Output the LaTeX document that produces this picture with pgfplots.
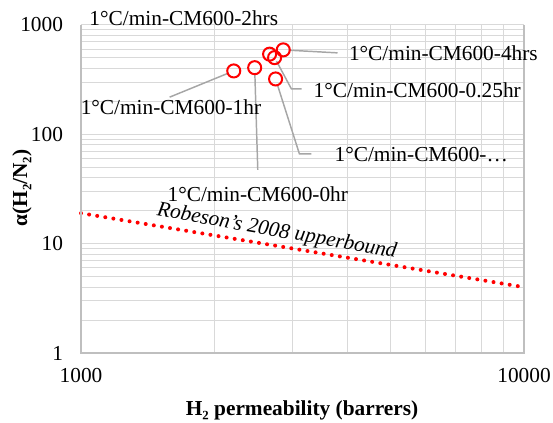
\documentclass[border=0pt]{standalone}
\usepackage{pgfplots}
\pgfplotsset{compat=1.18}
\usepackage{fontspec}
\setmainfont{Liberation Serif}

\definecolor{gridgray}{HTML}{D9D9D9}
\definecolor{axisgray}{HTML}{BFBFBF}
\definecolor{leadergray}{HTML}{A6A6A6}

\begin{document}
\begin{tikzpicture}[x=0.75pt,y=0.75pt,font=\fontsize{16}{19.2}\selectfont]
\useasboundingbox (0,0) rectangle (553,423);
\begin{axis}[
  at={(60.75pt,52.5pt)}, anchor=south west,
  scale only axis, width=332.25pt, height=246pt,
  xmode=log, ymode=log,
  xmin=1000, xmax=10000, ymin=1, ymax=1000,
  xtick={1000,10000}, xticklabels={1000,10000},
  ytick={1,10,100,1000}, yticklabels={1,10,100,1000},
  minor xtick={2000,3000,4000,5000,6000,7000,8000,9000},
  minor ytick={2,3,4,5,6,7,8,9,20,30,40,50,60,70,80,90,200,300,400,500,600,700,800,900},
  grid=both,
  major grid style={gridgray, line width=0.75pt},
  minor grid style={gridgray, line width=0.75pt},
  axis line style={draw=none},
  tick style={draw=none},
  /pgf/number format/assume math mode=true,
  xticklabel style={yshift=-8pt},
  yticklabel style={xshift=-10pt},
  clip=false,
]
% Robeson 2008 upper bound
\addplot[red, line width=3pt, line cap=round, dash pattern=on 0pt off 6.15pt]
  coordinates {(1000,19) (10000,4)};

% CM600 membranes, 1 C/min ramp
\addplot[only marks, mark=o, mark size=4.9pt, red, mark options={line width=1.5pt}]
  coordinates {(2212,380) (2466,407) (2665,541) (2735,503) (2861,592) (2749,321)};

% frame: left, bottom, right
\draw[axisgray, line width=1pt] (rel axis cs:0,1) -- (rel axis cs:0,0) -- (rel axis cs:1,0) -- (rel axis cs:1,1);

% leader lines
\draw[leadergray, line width=1.1pt, shorten >=4pt] (rel axis cs:0.200,0.780) -- (axis cs:2212,380);
\draw[leadergray, line width=1.1pt, shorten >=4pt] (rel axis cs:0.399,0.558) -- (axis cs:2466,407);
\draw[leadergray, line width=1.1pt, shorten >=4pt] (rel axis cs:0.579,0.915) -- (axis cs:2861,592);
\draw[leadergray, line width=1.1pt, shorten >=3pt] (rel axis cs:0.498,0.805) -- (rel axis cs:0.475,0.805) -- (axis cs:2735,503);
\draw[leadergray, line width=1.1pt, shorten >=4pt] (rel axis cs:0.520,0.607) -- (rel axis cs:0.493,0.607) -- (axis cs:2749,321);

% data labels
\node at (rel axis cs:0.232,1.021) {1°C/min-CM600-2hrs};
\node at (rel axis cs:0.818,0.915) {1°C/min-CM600-4hrs};
\node at (rel axis cs:0.759,0.802) {1°C/min-CM600-0.25hr};
\node at (rel axis cs:0.768,0.604) {1°C/min-CM600-…};
\node at (rel axis cs:0.203,0.750) {1°C/min-CM600-1hr};
\node[inner sep=0pt] at (rel axis cs:0.399,0.485) {1°C/min-CM600-0hr};
\node[inner sep=0pt, rotate=-10, font=\fontsize{16}{19.2}\selectfont\itshape] at (rel axis cs:0.442,0.370) {Robeson's 2008 upperbound};
\end{axis}
\node[font=\fontsize{16}{19.2}\selectfont\bfseries] at (302,13) {H₂ permeability (barrers)};
\node[rotate=90, font=\fontsize{16}{19.2}\selectfont\bfseries] at (22,235) {α(H₂/N₂)};
\end{tikzpicture}
\end{document}
